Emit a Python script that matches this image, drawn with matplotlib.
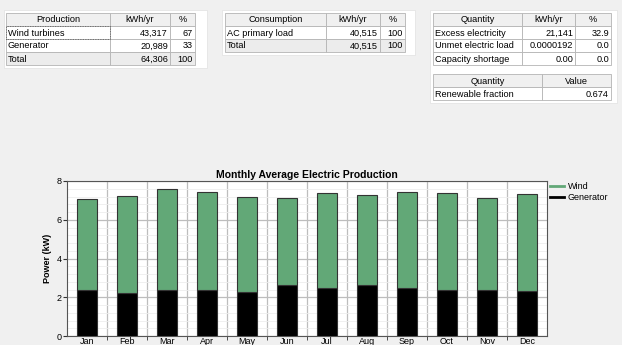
import matplotlib
matplotlib.use('Agg')
import matplotlib.pyplot as plt
from matplotlib.patches import Rectangle
from matplotlib.lines import Line2D
import numpy as np

plt.rcParams['font.family'] = ['Liberation Sans', 'DejaVu Sans']

# monthly average production (kW)
months = ['Jan', 'Feb', 'Mar', 'Apr', 'May', 'Jun', 'Jul', 'Aug', 'Sep', 'Oct', 'Nov', 'Dec']
generator = [2.36, 2.23, 2.39, 2.39, 2.27, 2.65, 2.47, 2.63, 2.47, 2.39, 2.39, 2.32]
total = [7.06, 7.22, 7.59, 7.44, 7.18, 7.13, 7.37, 7.28, 7.42, 7.37, 7.13, 7.33]
wind = [t - g for t, g in zip(total, generator)]

# summary tables
prod_header = ['Production', 'kWh/yr', '%']
prod_rows = [['Wind turbines', '43,317', '67'], ['Generator', '20,989', '33'], ['Total', '64,306', '100']]
cons_header = ['Consumption', 'kWh/yr', '%']
cons_rows = [['AC primary load', '40,515', '100'], ['Total', '40,515', '100']]
qty_header = ['Quantity', 'kWh/yr', '%']
qty_rows = [['Excess electricity', '21,141', '32.9'], ['Unmet electric load', '0.0000192', '0.0'],
            ['Capacity shortage', '0.00', '0.0']]
ren_header = ['Quantity', 'Value']
ren_rows = [['Renewable fraction', '0.674']]

W, H = 622, 345
fig = plt.figure(figsize=(W / 100, H / 100), dpi=100)
fig.patch.set_facecolor('#f0f0f0')

FS = 6.6
GREEN = '#62a877'


def px(x, y):
    return x / W, 1 - y / H


def draw_table(x0, y0, colx, header, rows, panel=None, shade_last=True, rowh=13):
    # white panel behind table
    if panel:
        pl, pt, pr, pb = panel
        fig.patches.append(Rectangle(px(pl, pb), (pr - pl) / W, (pb - pt) / H, transform=fig.transFigure,
                                     facecolor='white', edgecolor='#e4e4e4', lw=0.6, zorder=0))
    edges = [x0] + colx
    nrow = len(rows) + 1
    for r in range(nrow):
        top = y0 + r * rowh
        bot = top + rowh
        if r == 0:
            fc = '#f0f0f0'
        elif shade_last and r == nrow - 1:
            fc = '#ececec'
        else:
            fc = 'white'
        for c in range(len(edges) - 1):
            l, rr = edges[c], edges[c + 1]
            fig.patches.append(Rectangle(px(l, bot), (rr - l) / W, rowh / H, transform=fig.transFigure,
                                         facecolor=fc, edgecolor='#b4b4b4', lw=0.6, zorder=1))
            cells = header if r == 0 else rows[r - 1]
            txt = cells[c]
            ym = 1 - (top + rowh / 2 + 0.5) / H
            if r == 0:
                fig.text((l + rr) / 2 / W, ym, txt, ha='center', va='center', fontsize=FS, zorder=2)
            elif c == 0:
                fig.text((l + 2) / W, ym, txt, ha='left', va='center', fontsize=FS, zorder=2)
            else:
                fig.text((rr - 2) / W, ym, txt, ha='right', va='center', fontsize=FS, zorder=2)


draw_table(6, 13, [110, 170, 195], prod_header, prod_rows, (4, 10, 207, 68))
draw_table(225, 13, [326, 380, 405], cons_header, cons_rows, (222, 10, 415, 55))
draw_table(433, 13, [522, 575, 611], qty_header, qty_rows, (430, 10, 617, 103), shade_last=False)
draw_table(433, 74, [542, 611], ren_header, ren_rows, shade_last=False)
# dotted focus box around first data cell
fig.patches.append(Rectangle(px(6, 39), 104 / W, 13 / H, transform=fig.transFigure,
                             facecolor='none', edgecolor='#555555', lw=0.6, ls=(0, (1, 1)), zorder=3))

# chart
ax = fig.add_axes([67 / W, 1 - 336 / H, (547 - 67) / W, (336 - 181) / H])
ax.set_facecolor('white')
x = np.arange(len(months))
ax.bar(x, generator, width=0.48, color='black', edgecolor='#333333', lw=0.8, zorder=3)
ax.bar(x, wind, bottom=generator, width=0.48, color=GREEN, edgecolor='#333333', lw=0.8, zorder=3)

ax.set_xlim(-0.5, len(months) - 0.5)
ax.set_ylim(0, 8)
ax.set_yticks([0, 2, 4, 6, 8])
ax.set_yticks(np.arange(0, 8, 0.4), minor=True)
ax.set_xticks(x)
ax.set_xticklabels(months)
ax.set_xticks(np.arange(0.5, len(months) - 0.5, 1), minor=True)
ax.tick_params(axis='both', which='major', labelsize=6.5, length=3, pad=1, color='#333333')
ax.tick_params(axis='x', which='major', length=0, pad=1)
ax.tick_params(axis='x', which='minor', length=3, color='#333333')
ax.tick_params(axis='y', which='minor', length=0)
ax.grid(axis='y', which='minor', color='#eeeeee', lw=0.6, zorder=0)
ax.grid(axis='y', which='major', color='#bdbdbd', lw=0.9, zorder=1)
for xb in np.arange(0.5, len(months) - 0.5, 1):
    ax.axvline(xb, color='#bdbdbd', lw=0.9, zorder=1)
for s in ax.spines.values():
    s.set_color('#555555')
    s.set_linewidth(0.8)
ax.set_ylabel('Power (kW)', fontsize=6.5, fontweight='bold', labelpad=3)
ax.set_title('Monthly Average Electric Production', fontsize=7.5, fontweight='bold', pad=2)

handles = [Line2D([], [], color=GREEN, lw=2), Line2D([], [], color='black', lw=2)]
fig.legend(handles, ['Wind', 'Generator'], loc='upper left', bbox_to_anchor=(548 / W, 1 - 180 / H),
           frameon=False, fontsize=6.5, handlelength=1.6, handletextpad=0.4, labelspacing=0.25,
           borderaxespad=0, borderpad=0.2)

fig.savefig('out.png', dpi=100, facecolor=fig.get_facecolor())
